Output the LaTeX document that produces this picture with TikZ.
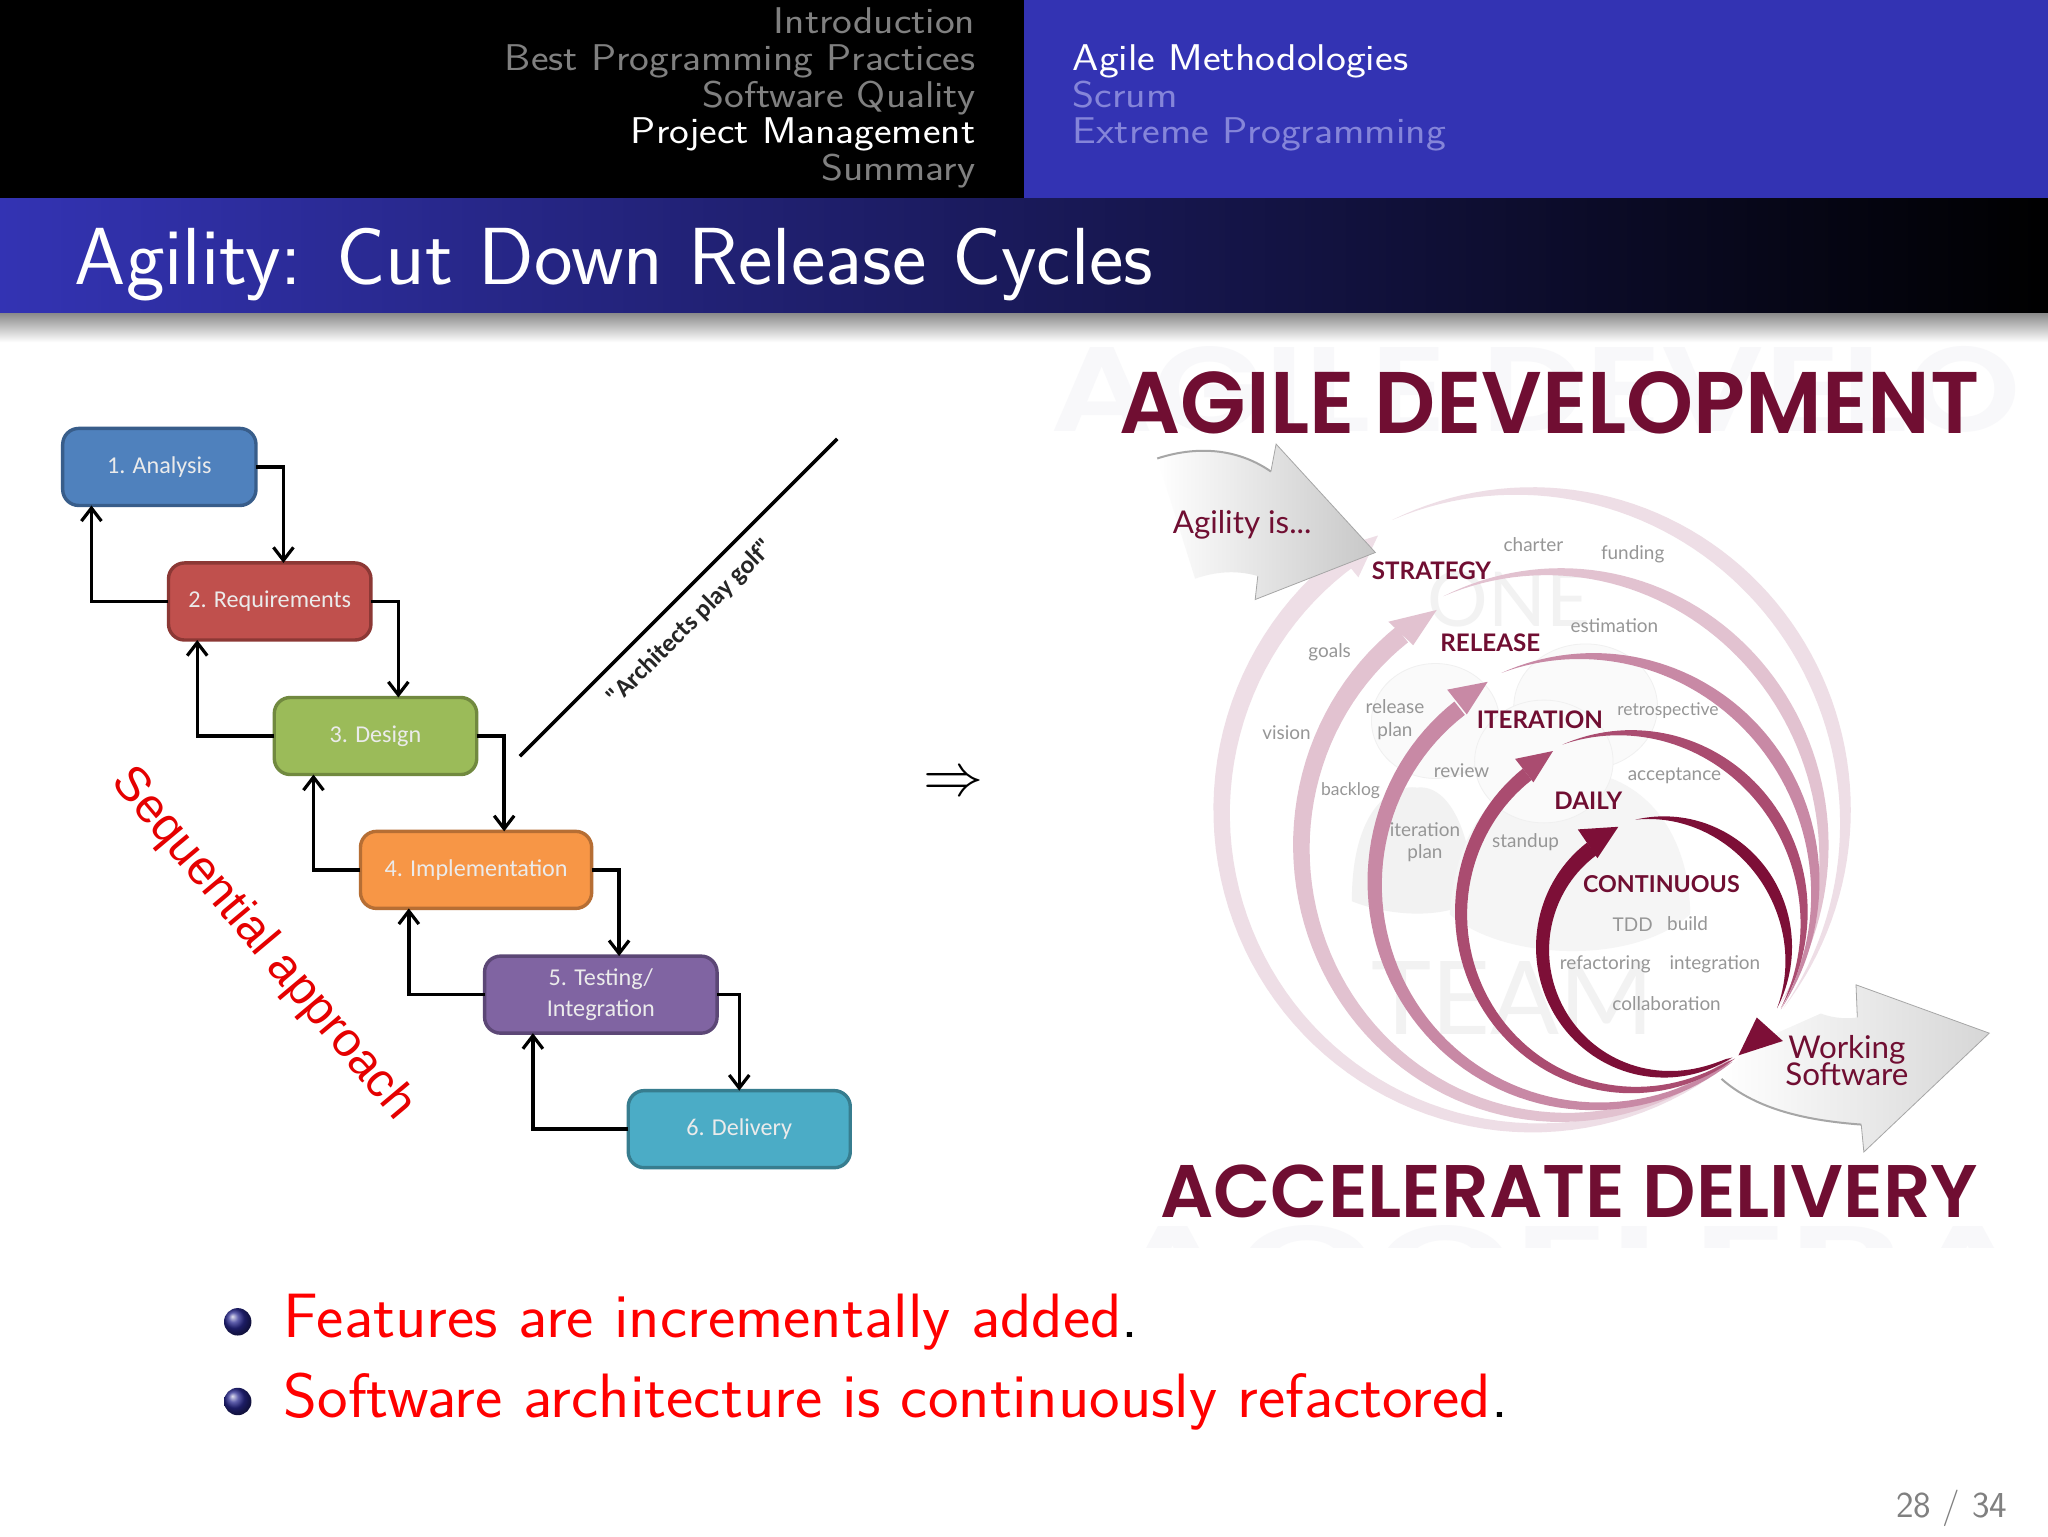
\documentclass[tikz,border=0pt]{standalone}
\usepackage{graphicx}
\usepackage{fontspec}
\usetikzlibrary{arrows.meta,calc,shadings}
\newfontfamily\carl{Carlito}
\newfontfamily\lato{Lato}
\newfontfamily\pop[UprightFont={* SemiBold}]{Poppins}
\newfontfamily\libs{Liberation Sans}
\newcommand\sz[1]{\fontsize{\fpeval{#1*0.65306}pt}{\fpeval{#1*0.65306*1.05}pt}\selectfont}
\newcommand\szl[2]{\fontsize{\fpeval{#1*0.65306}pt}{\fpeval{#2*0.65306}pt}\selectfont}
\newcommand\xs[2]{\scalebox{#1}[1]{#2}}
\definecolor{bblue}{RGB}{51,51,179}
\definecolor{navgray}{RGB}{128,128,128}
\definecolor{navlight}{RGB}{133,133,217}
\definecolor{maroon}{RGB}{112,14,50}
\definecolor{ghosttxt}{RGB}{248,248,250}
\definecolor{lab}{RGB}{150,150,150}
\definecolor{ringa}{RGB}{238,222,230}
\definecolor{ringb}{RGB}{226,194,208}
\definecolor{ringc}{RGB}{200,137,165}
\definecolor{ringd}{RGB}{170,76,112}
\definecolor{ringe}{RGB}{125,15,55}
\tikzset{
  stepbox/.style={draw,rounded corners=8,line width=1.7pt,inner sep=0,outer sep=0,text=white!92!black,align=center,font={\carl\szl{18.5}{24}},minimum height=59*0.65306pt},
  conn/.style={line width=1.7pt,draw=black,-{Straight Barb[length=6.5pt,width=10pt,line width=1.6pt]}},
  nav/.style={anchor=base east,inner sep=0,font={\sffamily\sz{28.5}}},
  sub/.style={anchor=base west,inner sep=0,font={\sffamily\sz{28.5}}},
  lbl/.style={inner sep=0,text=lab,align=center,font={\lato\szl{14.5}{17}}},
  stage/.style={inner sep=0,text=maroon,font={\lato\bfseries\sz{18.5}}},
}
% elliptical tapered arcs: cx cy rx ry t0 t1 tmax colour
\newcommand\armA[8]{\fill[#8] plot[domain=#5:#6,samples=70] ({#1+#3*cos(\x)},{#2+#4*sin(\x)}) -- plot[domain=#6:#5,samples=70] ({#1+(#3-#7*sqrt(abs(1-(\x-#5)/(#6-#5))))*cos(\x)},{#2+(#4-#7*sqrt(abs(1-(\x-#5)/(#6-#5))))*sin(\x)}) -- cycle;}
\newcommand\armB[8]{\fill[#8] plot[domain=#5:#6,samples=70] ({#1+#3*cos(\x)},{#2+#4*sin(\x)}) -- plot[domain=#6:#5,samples=70] ({#1+(#3-#7*abs(sin(((\x-#5)/(#6-#5))*180)))*cos(\x)},{#2+(#4-#7*abs(sin(((\x-#5)/(#6-#5))*180)))*sin(\x)}) -- cycle;}
\begin{document}
\begin{tikzpicture}[x=0.65306pt,y=-0.65306pt]
\useasboundingbox (0,0) rectangle (1568,1176);
\fill[white] (0,0) rectangle (1568,1176);
% header
\fill[black] (0,0) rectangle (784,152);
\fill[bblue] (784,0) rectangle (1568,152);
\shade[left color=bblue,right color=black,shading angle=90] (0,152) rectangle (1568,240);
\shade[top color=black!45,bottom color=white] (0,240) rectangle (1568,262);
\node[nav,text=navgray] (n1) at (747,26) {\xs{1.127}{Introduction}};
\node[nav,text=navgray] (n2) at (747,54) {\xs{1.127}{Best Programming Practices}};
\node[nav,text=navgray] (n3) at (747,82) {\xs{1.127}{Software Quality}};
\node[nav,text=white] (n4) at (747,110) {\xs{1.127}{Project Management}};
\node[nav,text=navgray] (n5) at (747,138) {\xs{1.127}{Summary}};
\node[sub,text=white] (s1) at (821,54) {\xs{1.134}{Agile Methodologies}};
\node[sub,text=navlight] (s2) at (821,82) {\xs{1.134}{Scrum}};
\node[sub,text=navlight] (s3) at (821,110) {\xs{1.134}{Extreme Programming}};
\node[anchor=base west,inner sep=0,text=white,font={\sffamily\sz{62}}] (ttl) at (57,218) {\xs{1.013}{Agility: Cut Down Release Cycles}};
% left flow
\node[stepbox,fill={rgb,255:red,79;green,129;blue,189},draw={rgb,255:red,56;green,93;blue,138},minimum width=148*0.65306pt] (a1) at (122,357.5) {1. Analysis};
\node[stepbox,fill={rgb,255:red,192;green,80;blue,77},draw={rgb,255:red,140;green,56;blue,53},minimum width=155*0.65306pt] (a2) at (206.5,460.5) {2. Requirements};
\node[stepbox,fill={rgb,255:red,155;green,187;blue,89},draw={rgb,255:red,113;green,137;blue,63},minimum width=155*0.65306pt] (a3) at (287.5,563.5) {3. Design};
\node[stepbox,fill={rgb,255:red,247;green,150;blue,70},draw={rgb,255:red,182;green,110;blue,52},minimum width=177*0.65306pt] (a4) at (364.5,666) {4. Implementation};
\node[stepbox,fill={rgb,255:red,128;green,100;blue,162},draw={rgb,255:red,92;green,71;blue,118},minimum width=178*0.65306pt] (a5) at (460,761.5) {5. Testing/\\Integration};
\node[stepbox,fill={rgb,255:red,75;green,172;blue,198},draw={rgb,255:red,55;green,125;blue,143},minimum width=170*0.65306pt] (a6) at (566,864.5) {6. Delivery};
\draw[conn] (a1.east) -| ($(a2.north west)+(88,0)$);
\draw[conn] (a2.east) -| ($(a3.north west)+(95,0)$);
\draw[conn] (a3.east) -| ($(a4.north west)+(110,0)$);
\draw[conn] (a4.east) -| ($(a5.north west)+(103,0)$);
\draw[conn] (a5.east) -| ($(a6.north west)+(85,0)$);
\draw[conn] (a2.west) -| ($(a1.south west)+(22,0)$);
\draw[conn] (a3.west) -| ($(a2.south west)+(22,0)$);
\draw[conn] (a4.west) -| ($(a3.south west)+(30,0)$);
\draw[conn] (a5.west) -| ($(a4.south west)+(37,0)$);
\draw[conn] (a6.west) -| ($(a5.south west)+(37,0)$);
\coordinate (g1) at (398,579); \coordinate (g2) at (641,336);
\draw[line width=1.7pt] (g1) -- (g2);
\node[inner sep=0,rotate=45,font={\carl\bfseries\sz{19.5}},text=black!85] (golf) at (529,477) {"Architects play golf"};
\node[inner sep=0,rotate=-50,text=red!90!black,font={\libs\sz{37}}] (seq) at (201,723) {Sequential approach};
\node[inner sep=0,scale=3] (impl) at (730,601) {$\Rightarrow$};
% right panel ghosts
\begin{scope}
\clip (800,258) rectangle (1568,955);
\node[anchor=base west,inner sep=0,text=ghosttxt,font={\pop\sz{92}}] (gh1) at (804,330) {\xs{1.2}{AGILE DEVELO}};
\node[anchor=base west,inner sep=0,text=ghosttxt,font={\pop\sz{92}}] (gh2) at (848,1003) {\xs{1.5}{ACCELERA}};
\end{scope}
\fill[black!5] (1035,690) .. controls (1035,620) and (1065,600) .. (1085,603) .. controls (1110,600) and (1128,640) .. (1128,690) .. controls (1100,705) and (1060,700) .. (1035,690);
\fill[black!4] (1110,700) .. controls (1115,620) and (1160,590) .. (1200,590) .. controls (1260,590) and (1294,640) .. (1294,700) .. controls (1250,740) and (1150,735) .. (1110,700);
\filldraw[fill=white!98!black,draw=black!6] (1099,552) ellipse (49 and 44);
\filldraw[fill=white!98!black,draw=black!6] (1214,541) ellipse (55 and 48);
\filldraw[fill=white!98!black,draw=black!6] (1182,583) ellipse (53 and 47);
\node[inner sep=0,text=black!5,font={\lato\sz{58}}] (one) at (1155,459) {ONE};
\node[inner sep=0,text=black!5,font={\lato\sz{78}}] (team) at (1158,764) {TEAM};
% rings
\armA{1173}{620}{244}{247}{234}{51}{15}{ringa}
\armB{1173}{620}{244}{247}{244}{398}{12}{ringa}
\fill[ringa] (1055,410) -- (1022,420) -- (1040,442) -- cycle;
\armA{1195}{647}{205}{212}{232}{50}{15}{ringb}
\armB{1195}{647}{205}{212}{244}{395}{11}{ringb}
\fill[ringb] (1100,467) -- (1063,476) -- (1082,494) -- cycle;
\armA{1220}{675}{173}{175}{232}{52}{13}{ringc}
\armB{1220}{675}{173}{175}{246}{394}{10}{ringc}
\fill[ringc] (1139,522) -- (1108,528) -- (1123,547) -- cycle;
\armA{1249}{698}{135}{139}{232}{54}{11}{ringd}
\armB{1249}{698}{135}{139}{247}{392}{9}{ringd}
\fill[ringd] (1189,575) -- (1160,581) -- (1174,599) -- cycle;
\armA{1274}{725}{98}{100}{233}{58}{12}{ringe}
\armB{1274}{725}{98}{100}{257}{388}{9}{ringe}
\fill[ringe] (1239,633) -- (1208,635) -- (1223,657) -- cycle;
% big arrows
\shade[left color=white,middle color=black!3,right color=black!22,shading angle=90] (886,351) .. controls (920,340) and (950,345) .. (973,361) -- (977,340) -- (1053,423) -- (961,459) -- (963,441) .. controls (945,436) and (930,438) .. (915,443) -- cycle;
\draw[black!35,line width=0.4pt] (973,361) -- (977,340) -- (1053,423) -- (961,459) -- (963,441);
\draw[black!35,line width=1pt] (886,351) .. controls (920,340) and (950,345) .. (973,361);
\shade[left color=white,middle color=black!3,right color=black!16,shading angle=90] (1394,776) .. controls (1405,780) and (1415,780) .. (1422,779) -- (1421,754) -- (1523,791) -- (1427,882) -- (1425,861) .. controls (1385,858) and (1345,850) .. (1318,826) -- (1340,800) -- cycle;
\draw[black!35,line width=0.4pt] (1422,779) -- (1421,754) -- (1523,791) -- (1427,882) -- (1425,861);
\draw[black!35,line width=1pt] (1425,861) .. controls (1385,858) and (1345,850) .. (1318,826);
\fill[ringe] (1345,779) -- (1365,797) -- (1331,808) -- cycle;
% right panel text
\node[inner sep=0,anchor=base] (t1) at (1186.5,332) {\xs{0.975}{\color{maroon}\pop\sz{67}AGILE DEVELOPMENT}};
\node[inner sep=0,anchor=base] (t2) at (1201.5,932) {\xs{1.0}{\color{maroon}\pop\sz{57}ACCELERATE DELIVERY}};
\node[inner sep=0,text=maroon,font={\lato\sz{24}}] (ag) at (951,402) {Agility is...};
\node[inner sep=0,text=maroon,align=center,font={\lato\sz{24}}] (ws) at (1414,812) {Working\\[-3pt]Software};
\node[stage] (st1) at (1096,437) {STRATEGY};
\node[stage] (st2) at (1141,492) {RELEASE};
\node[stage] (st3) at (1179,551) {ITERATION};
\node[stage] (st4) at (1216,613) {DAILY};
\node[stage,font={\lato\bfseries\sz{17.8}}] (st5) at (1272,677) {CONTINUOUS};
\node[lbl] (l1) at (1174,417) {charter};
\node[lbl] (l2) at (1250,424) {funding};
\node[lbl] (l3) at (1018,499) {goals};
\node[lbl] (l4) at (1236,479) {estimation};
\node[lbl] (l5) at (985,561) {vision};
\node[lbl] (l6) at (1068,551) {release\\plan};
\node[lbl,font={\lato\sz{13.4}}] (l7) at (1277,544) {retrospective};
\node[lbl] (l8) at (1119,590) {review};
\node[lbl,font={\lato\sz{13.4}}] (l9) at (1034,605) {backlog};
\node[lbl] (l10) at (1282,594) {acceptance};
\node[lbl] (l11) at (1091,645) {iteration\\plan};
\node[lbl] (l12) at (1168,645) {standup};
\node[lbl] (l13) at (1250,708) {TDD};
\node[lbl] (l14) at (1292,707) {build};
\node[lbl] (l15) at (1229,738) {refactoring};
\node[lbl] (l16) at (1313,738) {integration};
\node[lbl] (l17) at (1276,768) {collaboration};
% bullets
\shade[ball color=bblue!80!black] (182,1012) circle (10.5);
\shade[ball color=bblue!80!black] (182,1073) circle (10.5);
\node[anchor=base west,inner sep=0,font={\sffamily\sz{48}}] (b1) at (217,1024) {\xs{1.036}{\textcolor{red}{Features are incrementally added}.}};
\node[anchor=base west,inner sep=0,font={\sffamily\sz{48}}] (b2) at (217,1085) {\xs{1.036}{\textcolor{red}{Software architecture is continuously refactored}.}};
\node[anchor=base east,inner sep=0,text=navgray,font={\sffamily\sz{28}}] (pg) at (1537,1162) {\xs{1.02}{28 / 34}};
\end{tikzpicture}
\end{document}
